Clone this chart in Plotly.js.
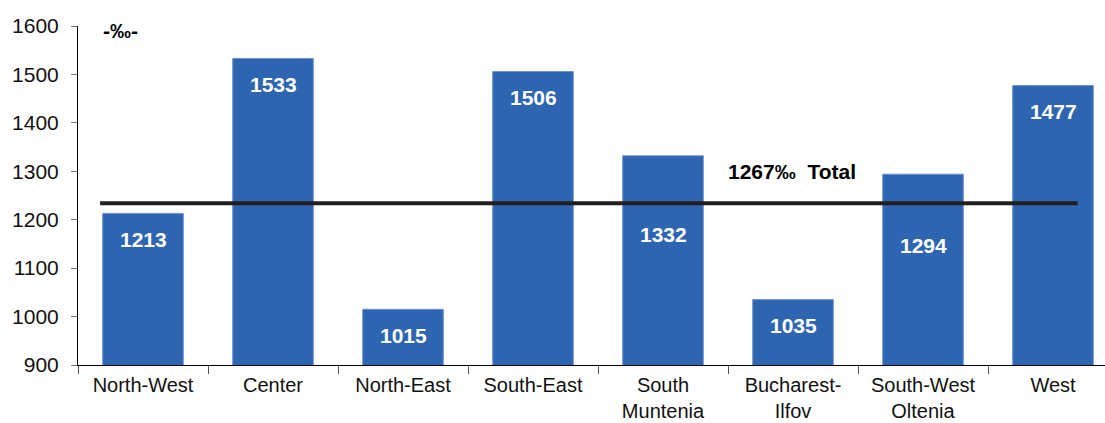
<!DOCTYPE html>
<html><head><meta charset="utf-8">
<script src="https://cdn.plot.ly/plotly-3.0.1.min.js"></script>
<style>html,body{margin:0;padding:0;background:#fff}#c{width:1105px;height:423px}</style>
</head><body><div id="c"></div>
<script>
const categories = ["North-West","Center","North-East","South-East","South<br>Muntenia","Bucharest-<br>Ilfov","South-West<br>Oltenia","West"];
const values = [1213,1533,1015,1506,1332,1035,1294,1477];
const labels = ["1213","1533","1015","1506","1332","1035","1294","1477"];
const totalLineValue = 1234;
const totalLabel = "1267‰  Total";
const unitLabel = "-‰-";

const font = "Liberation Sans, Arial, sans-serif";
const annotations = values.map((v,i)=>{
  const nearLine = v > totalLineValue && v - totalLineValue < 120;
  return {x: categories[i], y: nearLine ? totalLineValue : v, yref:'y', xref:'x',
    text: '<b>'+labels[i]+'</b>', showarrow:false,
    yshift: nearLine ? (v>1300 ? -31 : -42) : -26,
    font:{family:font,size:21,color:'#ffffff'}};
});
annotations.push({x:4.99, y:1300, xref:'x', yref:'y', text:'<b>'+totalLabel+'</b>', showarrow:false, yshift:0,
  font:{family:font,size:21,color:'#000'}});
annotations.push({x:0.022, y:1600, xref:'paper', yref:'y', xanchor:'left', text:'<b>'+unitLabel+'</b>', showarrow:false, yshift:-4,
  font:{family:font,size:21,color:'#000'}});

const data = [{type:'bar', x:categories, y:values, width:0.62,
  marker:{color:'#2E65B1', line:{width:1,color:'#6f93cc'}}, hoverinfo:'none'}];
const layout = {
  width:1105, height:423, margin:{l:78,r:0,t:26,b:58},
  paper_bgcolor:'#fff', plot_bgcolor:'#fff', showlegend:false,
  font:{family:font, size:20, color:'#111'},
  xaxis:{type:'category', range:[-0.5,7.4], tickson:'boundaries', ticks:'outside', ticklen:8, tickcolor:'#555', tickwidth:1,
    showline:true, linecolor:'#000', linewidth:1, showgrid:false, zeroline:false,
    tickfont:{family:font,size:20,color:'#111'}, ticklabelstandoff:2},
  yaxis:{range:[900,1600], dtick:100, ticks:'outside', ticklen:6, tickcolor:'#777', tickwidth:1,
    showline:true, linecolor:'#000', linewidth:1, showgrid:false, zeroline:false,
    tickfont:{family:font,size:21,color:'#111'}, ticklabelstandoff:8},
  shapes:[{type:'line', xref:'x', yref:'y', x0:-0.33, x1:7.19, y0:totalLineValue, y1:totalLineValue,
    line:{color:'#231f20', width:4}}],
  annotations: annotations
};
Plotly.newPlot('c', data, layout, {displayModeBar:false, staticPlot:true});
</script></body></html>
